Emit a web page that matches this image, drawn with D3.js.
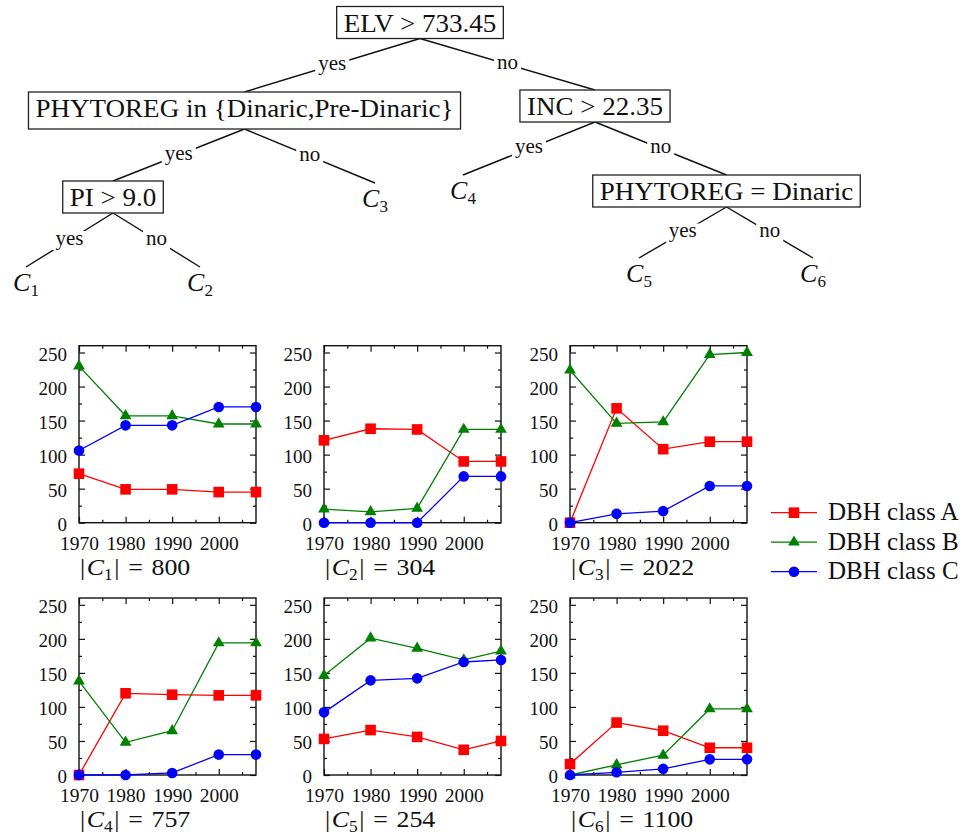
<!DOCTYPE html>
<html>
<head>
<meta charset="utf-8">
<script src="https://cdn.jsdelivr.net/npm/d3@7"></script>
<style>
  body { margin: 0; background: #fff; }
  svg { display: block; }
  text { font-family: "Liberation Serif", "DejaVu Serif", serif; fill: #111; }
</style>
</head>
<body>
<svg id="chart" width="965" height="837"></svg>
<script>
// ---------- data ----------
const years = [1970, 1980, 1990, 2000, 2008];
const clusterIds = ["1", "2", "3", "4", "5", "6"];
const clusterSizes = [800, 304, 2022, 757, 254, 1100];
const seriesNames = ["DBH class A", "DBH class B", "DBH class C"];
// one row per cluster, one value per year
const classA = [
  [72, 49, 49, 45, 45],
  [121, 138, 137, 90, 90],
  [0, 168, 108, 119, 119],
  [0, 120, 118, 117, 117],
  [53, 66, 56, 37, 50],
  [16, 77, 65, 40, 40]
];
const classB = [
  [230, 157, 157, 145, 145],
  [20, 16, 21, 137, 137],
  [224, 146, 148, 247, 250],
  [138, 48, 65, 194, 194],
  [146, 201, 186, 169, 182],
  [0, 15, 29, 97, 97]
];
const classC = [
  [106, 143, 143, 170, 170],
  [0, 0, 0, 68, 68],
  [0, 13, 17, 54, 54],
  [0, 0, 3, 30, 30],
  [92, 139, 142, 166, 169],
  [0, 4, 9, 23, 23]
];
const yTicks = [0, 50, 100, 150, 200, 250];
const yMinorTicks = [25, 75, 125, 175, 225];
const xTicks = [1970, 1980, 1990, 2000];
const xMinorTicks = [1975, 1985, 1995, 2005];

// decision tree: split nodes and leaf clusters
const treeNodes = [
  { id: "root", parent: "", branch: "", label: "ELV > 733.45" },
  { id: "phyto1", parent: "root", branch: "yes", label: "PHYTOREG in {Dinaric,Pre-Dinaric}" },
  { id: "inc", parent: "root", branch: "no", label: "INC > 22.35" },
  { id: "pi", parent: "phyto1", branch: "yes", label: "PI > 9.0" },
  { id: "C3", parent: "phyto1", branch: "no", leaf: "3" },
  { id: "C1", parent: "pi", branch: "yes", leaf: "1" },
  { id: "C2", parent: "pi", branch: "no", leaf: "2" },
  { id: "C4", parent: "inc", branch: "yes", leaf: "4" },
  { id: "phyto2", parent: "inc", branch: "no", label: "PHYTOREG = Dinaric" },
  { id: "C5", parent: "phyto2", branch: "yes", leaf: "5" },
  { id: "C6", parent: "phyto2", branch: "no", leaf: "6" }
];

// ---------- layout ----------
const svg = d3.select("#chart");

// tree placement: split nodes -> label centre/baseline, leaves -> edge end point
const treePos = {
  root: { x: 420, y: 31.5 },
  phyto1: { x: 244.5, y: 117 },
  inc: { x: 595, y: 115 },
  pi: { x: 113, y: 206 },
  phyto2: { x: 726.5, y: 200 },
  C1: { x: 26, y: 267 },
  C2: { x: 200, y: 267 },
  C3: { x: 375, y: 183 },
  C4: { x: 463, y: 175 },
  C5: { x: 639, y: 258 },
  C6: { x: 813, y: 258 }
};

const panelSize = 177;
const panelLefts = [79, 324, 570];
const panelTops = [345.7, 598];
const colors = ["#ff0000", "#008000", "#0000ff"];

// ---------- tree ----------
const hier = d3.stratify().id(d => d.id).parentId(d => d.parent || null)(treeNodes);
const gTree = svg.append("g");
const gEdges = gTree.append("g");
const gEdgeLabels = gTree.append("g");
const gNodes = gTree.append("g");

const nodeFont = 26, nodeScale = 1.04, boxPad = 7;
const boxes = {};
hier.descendants().forEach(n => {
  const p = treePos[n.id];
  if (n.data.leaf) {
    const t = gNodes.append("text")
      .attr("x", p.x).attr("y", p.y + 24)
      .attr("text-anchor", "middle")
      .style("font-size", "26px");
    t.append("tspan").attr("font-style", "italic").text("C");
    t.append("tspan").attr("dy", 5).style("font-size", "17px").text(n.data.leaf);
    boxes[n.id] = { top: p.y, bottom: p.y };
  } else {
    const g = gNodes.append("g").attr("transform", `translate(${p.x},${p.y}) scale(${nodeScale},1)`);
    const t = g.append("text").attr("text-anchor", "middle")
      .style("font-size", nodeFont + "px").text(n.data.label);
    const w = t.node().getComputedTextLength() * nodeScale;
    const top = p.y - 25;
    const bottom = p.y + (/[{}]/.test(n.data.label) ? 12 : 7);
    gNodes.insert("rect", ":first-child")
      .attr("x", p.x - w / 2 - boxPad).attr("y", top)
      .attr("width", w + 2 * boxPad).attr("height", bottom - top)
      .attr("fill", "#fff").attr("stroke", "#222").attr("stroke-width", 1.3);
    boxes[n.id] = { top, bottom };
  }
});

hier.links().forEach(l => {
  const s = treePos[l.source.id], t = treePos[l.target.id];
  const x1 = s.x, y1 = boxes[l.source.id].bottom;
  const x2 = t.x, y2 = boxes[l.target.id].top;
  gEdges.append("line")
    .attr("x1", x1).attr("y1", y1).attr("x2", x2).attr("y2", y2)
    .attr("stroke", "#111").attr("stroke-width", 1.4);
  const mx = (x1 + x2) / 2, my = (y1 + y2) / 2;
  const lbl = gEdgeLabels.append("text")
    .attr("x", mx).attr("y", my + 4.5)
    .attr("text-anchor", "middle")
    .style("font-size", "21px")
    .text(l.target.data.branch);
  const bb = lbl.node().getBBox();
  gEdgeLabels.insert("rect", ":first-child")
    .attr("x", bb.x - 3).attr("y", my - 9)
    .attr("width", bb.width + 6).attr("height", 19)
    .attr("fill", "#fff");
});

// ---------- small multiples ----------
const series = [classA, classB, classC];

function marker(sel, k, color) {
  if (k === 0) {
    sel.append("rect").attr("x", -5.3).attr("y", -5.3).attr("width", 10.6).attr("height", 10.6).attr("fill", color);
  } else if (k === 1) {
    sel.append("path").attr("d", d3.symbol(d3.symbolTriangle, 60)()).attr("fill", color);
  } else {
    sel.append("circle").attr("r", 5.3).attr("fill", color);
  }
}

clusterIds.forEach((cid, i) => {
  const left = panelLefts[i % 3];
  const top = panelTops[Math.floor(i / 3)];
  const x = d3.scaleLinear().domain([1970, 2008]).range([left, left + panelSize]);
  const y = d3.scaleLinear().domain([0, 260]).range([top + panelSize, top]);
  const g = svg.append("g");

  // inward ticks on all four sides
  const styleAxis = a => {
    a.select(".domain").remove();
    a.selectAll(".tick line").attr("stroke", "#111").attr("stroke-width", 1.2);
  };
  const yl = g.append("g").attr("transform", `translate(${left},0)`)
    .call(d3.axisLeft(y).tickValues(yTicks).tickSize(-6).tickPadding(12).tickFormat(d3.format("d")));
  yl.call(styleAxis);
  yl.selectAll("text").attr("dy", "0.4em").style("font-size", "19px").attr("fill", "#111");
  g.append("g").attr("transform", `translate(${left},0)`)
    .call(d3.axisLeft(y).tickValues(yMinorTicks).tickSize(-3).tickFormat("")).call(styleAxis);
  g.append("g").attr("transform", `translate(${left + panelSize},0)`)
    .call(d3.axisRight(y).tickValues(yTicks).tickSize(-6).tickFormat("")).call(styleAxis);
  g.append("g").attr("transform", `translate(${left + panelSize},0)`)
    .call(d3.axisRight(y).tickValues(yMinorTicks).tickSize(-3).tickFormat("")).call(styleAxis);

  const xb = g.append("g").attr("transform", `translate(0,${top + panelSize})`)
    .call(d3.axisBottom(x).tickValues(xTicks).tickSize(-6).tickPadding(13).tickFormat(d3.format("d")));
  xb.call(styleAxis);
  xb.selectAll("text").style("font-size", "19.5px").attr("fill", "#111");
  g.append("g").attr("transform", `translate(0,${top + panelSize})`)
    .call(d3.axisBottom(x).tickValues(xMinorTicks).tickSize(-3).tickFormat("")).call(styleAxis);
  g.append("g").attr("transform", `translate(0,${top})`)
    .call(d3.axisTop(x).tickValues(xTicks).tickSize(-6).tickFormat("")).call(styleAxis);
  g.append("g").attr("transform", `translate(0,${top})`)
    .call(d3.axisTop(x).tickValues(xMinorTicks).tickSize(-3).tickFormat("")).call(styleAxis);

  g.append("rect").attr("x", left).attr("y", top)
    .attr("width", panelSize).attr("height", panelSize)
    .attr("fill", "none").attr("stroke", "#111").attr("stroke-width", 1.4);

  // series: line then markers, class C drawn last
  const line = d3.line().x((d, j) => x(years[j])).y(d => y(d));
  series.forEach((s, k) => {
    const vals = s[i];
    g.append("path").attr("d", line(vals))
      .attr("fill", "none").attr("stroke", colors[k]).attr("stroke-width", 1.3);
    vals.forEach((v, j) => {
      const m = g.append("g").attr("transform", `translate(${x(years[j])},${y(v)})`);
      marker(m, k, colors[k]);
    });
  });

  // caption |C_i| = n
  const cap = g.append("g").attr("transform", `translate(${left + 1},${top + panelSize + 52}) scale(1.08,1)`)
    .append("text").style("font-size", "24px");
  cap.append("tspan").text("|");
  cap.append("tspan").attr("dx", 1.5).attr("font-style", "italic").text("C");
  cap.append("tspan").attr("dy", 5).style("font-size", "16px").text(cid);
  cap.append("tspan").attr("dy", -5).attr("dx", 1.5).text("|");
  cap.append("tspan").attr("dx", 8).text("=");
  cap.append("tspan").attr("dx", 8).text(clusterSizes[i]);
});

// ---------- legend ----------
const legend = svg.append("g");
seriesNames.forEach((name, k) => {
  const ly = 512.7 + k * 29.5;
  legend.append("line").attr("x1", 771).attr("x2", 817).attr("y1", ly).attr("y2", ly)
    .attr("stroke", colors[k]).attr("stroke-width", 1.3);
  marker(legend.append("g").attr("transform", `translate(794,${ly})`), k, colors[k]);
  legend.append("text").attr("x", 828).attr("y", ly + 7.5)
    .style("font-size", "25px").text(name);
});
</script>
</body>
</html>
